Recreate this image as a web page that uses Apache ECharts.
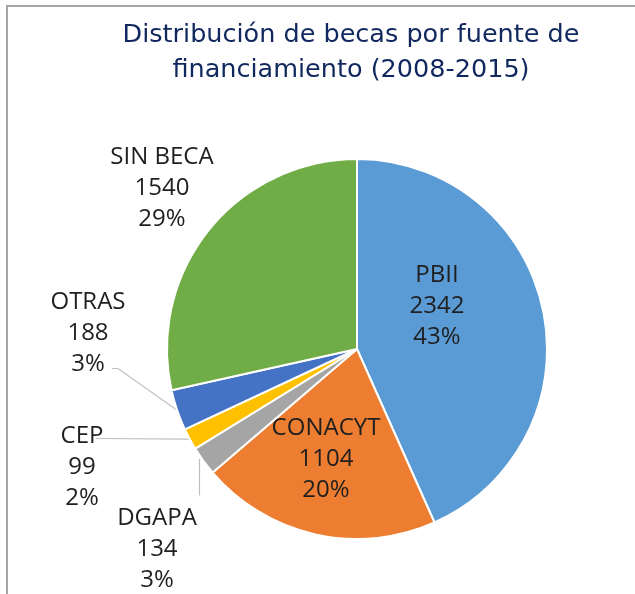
<!DOCTYPE html>
<html>
<head>
<meta charset="utf-8">
<script src="https://cdn.jsdelivr.net/npm/echarts@6/dist/echarts.min.js"></script>
<style>
  html, body { margin: 0; padding: 0; background: #fff; }
  #main { width: 635px; height: 594px; }
</style>
</head>
<body>
<div id="main"></div>
<script>
// datos
var fuentes = ['PBII', 'CONACYT', 'DGAPA', 'CEP', 'OTRAS', 'SIN BECA'];
var becas = [2342, 1104, 134, 99, 188, 1540];
var porcentajes = ['43%', '20%', '3%', '2%', '3%', '29%'];
var colores = ['#5B9BD5', '#ED7D31', '#A5A5A5', '#FFC000', '#4472C4', '#70AD47'];

// centro del bloque de texto de cada etiqueta
var posEtiquetas = [[437, 306], [326, 459], [157, 549], [82, 467], [88, 333], [162, 188]];
// como se une la linea guia: 'top' (vertical), 'first' (1a linea), 'last' (ultima linea)
var tipoGuia = [null, null, 'top', 'first', 'last', null];

var chart = echarts.init(document.getElementById('main'));

var data = fuentes.map(function (f, i) {
  var item = { name: f, value: becas[i], itemStyle: { color: colores[i] } };
  if (!tipoGuia[i]) {
    item.labelLine = { show: false };
  }
  return item;
});

var option = {
  title: {
    text: 'Distribución de becas por fuente de\nfinanciamiento (2008-2015)',
    left: 346,
    top: 13,
    textAlign: 'center',
    textStyle: {
      fontFamily: 'DejaVu Sans',
      fontSize: 25.5,
      fontWeight: 'normal',
      color: '#10285e',
      lineHeight: 35
    }
  },
  graphic: [{
    type: 'rect',
    silent: true,
    shape: { x: 7, y: 6, width: 700, height: 700 },
    style: { fill: 'none', stroke: '#a6a6a6', lineWidth: 2 }
  }],
  series: [{
    type: 'pie',
    center: [357, 349],
    radius: 190,
    startAngle: 90,
    silent: true,
    itemStyle: { borderColor: '#fff', borderWidth: 2 },
    label: {
      show: true,
      position: 'outside',
      overflow: 'none',
      fontFamily: 'Open Sans',
      fontSize: 24,
      lineHeight: 31,
      color: '#1f1f1f',
      align: 'center',
      formatter: function (p) {
        return p.name + '\n' + p.value + '\n' + porcentajes[p.dataIndex];
      }
    },
    labelLine: {
      show: true,
      length: 20,
      length2: 10,
      lineStyle: { color: '#bfbfbf', width: 1.2 }
    },
    labelLayout: function (params) {
      var i = params.dataIndex;
      var p = posEtiquetas[i];
      var res = { x: p[0], y: p[1], align: 'center', verticalAlign: 'middle' };
      var tipo = tipoGuia[i];
      if (tipo && params.labelLinePoints) {
        var borde = params.labelLinePoints[0];
        var w = params.labelRect.width, h = params.labelRect.height;
        var der = p[0] + w / 2, arriba = p[1] - h / 2;
        if (tipo == 'top') {
          res.labelLinePoints = [[borde[0] - 4, borde[1] - 2], [borde[0] - 4, arriba - 7]];
        } else if (tipo == 'first') {
          res.labelLinePoints = [borde, [der - 8, arriba + 18]];
        } else {
          res.labelLinePoints = [borde, [p[0] + 30, arriba + h - 11], [p[0] + 24, arriba + h - 11]];
        }
      }
      return res;
    },
    data: data
  }]
};

chart.setOption(option);
</script>
</body>
</html>
